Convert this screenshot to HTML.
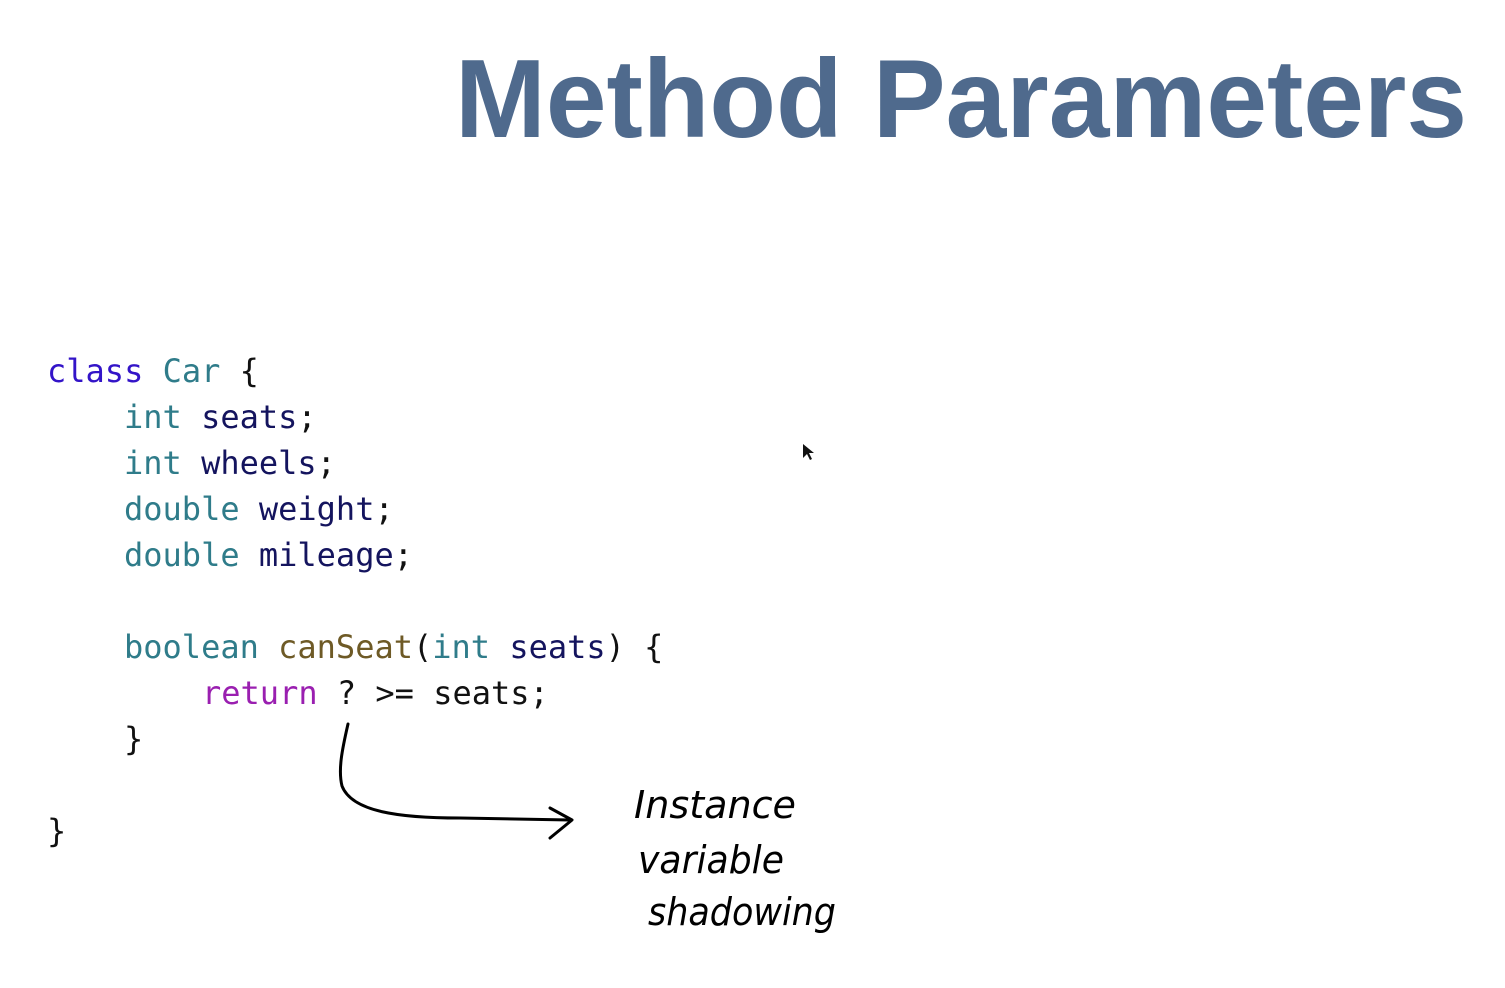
<!DOCTYPE html>
<html><head><meta charset="utf-8"><style>
html,body{margin:0;padding:0;background:#fff;}
svg{display:block}
</style></head><body>
<svg width="1505" height="988" viewBox="0 0 1505 988" xmlns="http://www.w3.org/2000/svg">
<text x="455" y="137" font-family="Liberation Sans, sans-serif" font-weight="bold" font-size="111" fill="#4f6a8d" textLength="1012" lengthAdjust="spacingAndGlyphs">Method Parameters</text>
<g font-family="DejaVu Sans Mono, monospace" font-size="32" style="white-space:pre">
<text x="47" y="382"><tspan fill="#3314c8">class</tspan> <tspan fill="#2f7c8a">Car</tspan> <tspan fill="#111">{</tspan></text>
<text x="124" y="428"><tspan fill="#2f7c8a">int</tspan> <tspan fill="#14145e">seats</tspan><tspan fill="#111">;</tspan></text>
<text x="124" y="474"><tspan fill="#2f7c8a">int</tspan> <tspan fill="#14145e">wheels</tspan><tspan fill="#111">;</tspan></text>
<text x="124" y="520"><tspan fill="#2f7c8a">double</tspan> <tspan fill="#14145e">weight</tspan><tspan fill="#111">;</tspan></text>
<text x="124" y="566"><tspan fill="#2f7c8a">double</tspan> <tspan fill="#14145e">mileage</tspan><tspan fill="#111">;</tspan></text>
<text x="124" y="658"><tspan fill="#2f7c8a">boolean</tspan> <tspan fill="#6e5a26">canSeat</tspan><tspan fill="#111">(</tspan><tspan fill="#2f7c8a">int</tspan> <tspan fill="#14145e">seats</tspan><tspan fill="#111">) {</tspan></text>
<text x="202" y="704"><tspan fill="#9a1fb0">return</tspan> <tspan fill="#111">? &gt;= seats;</tspan></text>
<text x="124" y="750" fill="#111">}</text>
<text x="47" y="842" fill="#111">}</text>
</g>
<path d="M348 724 C342 750 338 770 342 786 C352 812 400 818 460 818 L570 820" fill="none" stroke="#000" stroke-width="3" stroke-linecap="round"/>
<path d="M550 808 L572 820 L550 838" fill="none" stroke="#000" stroke-width="3" stroke-linecap="round" stroke-linejoin="round"/>
<path d="M803 444 L803 458 L807 454 L810 460 L812 459 L809 453 L814 453 Z" fill="#111"/>
<g font-family="DejaVu Sans, sans-serif" font-style="italic" font-size="38" fill="#000">
<text x="634" y="818" textLength="162" lengthAdjust="spacingAndGlyphs">Instance</text>
<text x="638" y="873" textLength="146" lengthAdjust="spacingAndGlyphs">variable</text>
<text x="648" y="925" textLength="188" lengthAdjust="spacingAndGlyphs">shadowing</text>
</g>
</svg>
</body></html>
